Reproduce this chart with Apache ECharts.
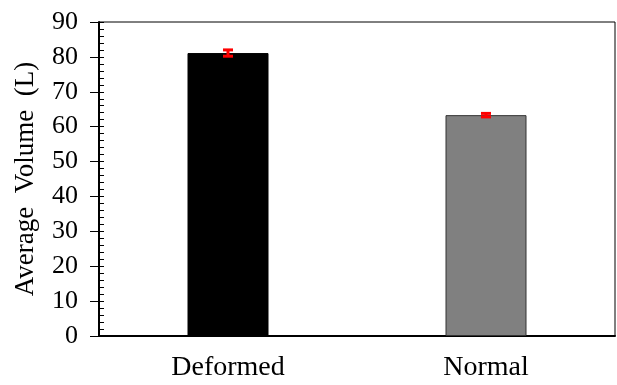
<!DOCTYPE html>
<html>
<head>
<meta charset="utf-8">
<script src="https://cdn.jsdelivr.net/npm/echarts@6/dist/echarts.min.js"></script>
<style>html,body{margin:0;padding:0;background:#fff}#c{width:617px;height:385px}</style>
</head>
<body>
<div id="c"></div>
<script>
var categories = ['Deformed', 'Normal'];
var values = [81.1, 63.3];
var errors = [0.9, 0.5];
var barColors = ['#000000', '#808080'];
var yMin = 0, yMax = 90, yStep = 10, yMinorStep = 2;
var yName = 'Average  Volume  (L)';

var chart = echarts.init(document.getElementById('c'), null, {renderer: 'canvas'});
var font = '"Liberation Serif", "Times New Roman", serif';
chart.setOption({
  animation: false,
  grid: {left: 99, right: 2, top: 22, bottom: 49, show: true, borderColor: '#000', borderWidth: 1, containLabel: false},
  xAxis: {
    type: 'category', data: categories,
    axisLine: {lineStyle: {color: '#000', width: 2}},
    axisTick: {show: false},
    axisLabel: {color: '#000', fontFamily: font, fontSize: 28, margin: 18}
  },
  yAxis: [{
    type: 'value', min: yMin, max: yMax, interval: yStep,
    name: yName, nameLocation: 'middle', nameGap: 60,
    nameTextStyle: {color: '#000', fontFamily: font, fontSize: 27},
    axisLine: {show: true, lineStyle: {color: '#000', width: 2}},
    axisTick: {show: true, length: 9, lineStyle: {color: '#000', width: 1}},
    axisLabel: {color: '#000', fontFamily: font, fontSize: 26, margin: 21},
    splitLine: {show: false}
  }, {
    type: 'value', min: yMin, max: yMax, interval: yMinorStep, position: 'left',
    axisLine: {show: false},
    axisTick: {show: true, inside: true, length: 5, lineStyle: {color: '#000', width: 1}},
    axisLabel: {show: false},
    splitLine: {show: false}
  }],
  series: [{
    type: 'bar', barWidth: 81,
    data: values.map(function (v, i) {
      return {value: v, itemStyle: {color: barColors[i], borderColor: i === 0 ? '#000' : '#333', borderWidth: 1}};
    })
  }, {
    type: 'custom',
    data: values.map(function (v, i) { return [i, v - errors[i], v + errors[i]]; }),
    renderItem: function (params, api) {
      var x = api.coord([api.value(0), 0])[0];
      var lo = api.coord([api.value(0), api.value(1)])[1];
      var hi = api.coord([api.value(0), api.value(2)])[1];
      var hw = 5;
      var st = {stroke: '#ff0000', lineWidth: 3};
      return {type: 'group', children: [
        {type: 'line', shape: {x1: x, y1: lo, x2: x, y2: hi}, style: st},
        {type: 'line', shape: {x1: x - hw, y1: lo, x2: x + hw, y2: lo}, style: st},
        {type: 'line', shape: {x1: x - hw, y1: hi, x2: x + hw, y2: hi}, style: st}
      ]};
    },
    z: 10
  }]
});
</script>
</body>
</html>
